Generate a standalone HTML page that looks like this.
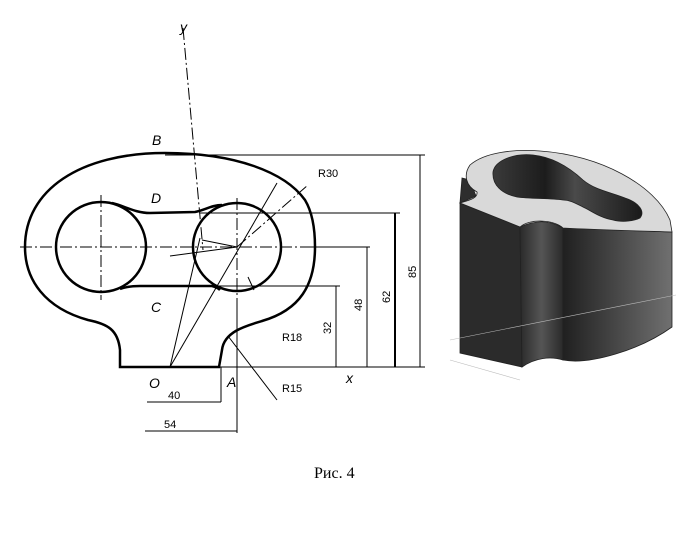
<!DOCTYPE html>
<html><head><meta charset="utf-8"><style>
html,body{margin:0;padding:0;background:#fff;width:676px;height:556px;overflow:hidden}
svg{display:block}
</style></head><body>
<svg width="676" height="556" viewBox="0 0 676 556" xmlns="http://www.w3.org/2000/svg">
<defs>
<linearGradient id="gm" x1="0" x2="1"><stop offset="0" stop-color="#2a2a2a"/><stop offset="0.5" stop-color="#555"/><stop offset="1" stop-color="#2a2a2a"/></linearGradient>
<linearGradient id="gr" x1="0" x2="1"><stop offset="0" stop-color="#202020"/><stop offset="1" stop-color="#707070"/></linearGradient>
<linearGradient id="gh" x1="0" x2="1"><stop offset="0" stop-color="#3a3a3a"/><stop offset="0.35" stop-color="#1c1c1c"/><stop offset="0.55" stop-color="#4a4a4a"/><stop offset="1" stop-color="#1a1a1a"/></linearGradient>
</defs>
<g fill="none" stroke="#000">
<path stroke-width="2.5" d="M120,367 L120,350 C118,330 108,324 88,320 C45,308 25,280 25,247 C25,190 80,153 165,153 C235,153 285,172 305,200 C314,215 315,235 315,247 C315,285 300,310 262,321 C245,326 224,332 222,350 L219,367 Z"/>
<circle cx="101" cy="247" r="45" stroke-width="2.5"/>
<circle cx="237" cy="247" r="44" stroke-width="2.5"/>
<path stroke-width="2.5" d="M112,203 C125,206 135,213 150,213 L195,212 C205,210 212,205 222,205"/>
<path stroke-width="2.5" d="M120,289 C125,287 130,286 140,286 L212,286 C216,287 218,288 220,290"/>
<g stroke-width="1" stroke-dasharray="12,3,2,3">
<line x1="20" y1="247" x2="320" y2="247"/>
<line x1="101" y1="195" x2="101" y2="300"/>
<line x1="237" y1="198" x2="237" y2="300"/>
<line x1="183" y1="28" x2="203" y2="250"/>
<line x1="237" y1="247" x2="308" y2="185"/>
</g>
<g stroke-width="1">
<line x1="165" y1="155" x2="425" y2="155"/>
<line x1="420" y1="155" x2="420" y2="367"/>
<line x1="200" y1="213" x2="400" y2="213"/>
<line x1="395" y1="213" x2="395" y2="367" stroke-width="2"/>
<line x1="300" y1="247" x2="370" y2="247"/>
<line x1="367" y1="247" x2="367" y2="367"/>
<line x1="215" y1="286" x2="340" y2="286"/>
<line x1="336" y1="286" x2="336" y2="367"/>
<line x1="219" y1="367" x2="425" y2="367"/>
<line x1="237" y1="300" x2="237" y2="433"/>
<line x1="221" y1="367" x2="221" y2="402"/>
<line x1="147" y1="402" x2="221" y2="402"/>
<line x1="145" y1="431" x2="237" y2="431"/>
<line x1="228" y1="336" x2="277" y2="400"/>
<line x1="170" y1="367" x2="277" y2="183"/>
<line x1="170" y1="367" x2="200" y2="238"/>
<line x1="237" y1="247" x2="170" y2="256"/>
<line x1="237" y1="247" x2="202" y2="240"/>
<line x1="248" y1="277" x2="254" y2="290"/>
</g>
</g>
<g font-family="Liberation Sans, sans-serif" font-size="11" fill="#000">
<text x="318" y="177">R30</text>
<text x="282" y="341">R18</text>
<text x="282" y="392">R15</text>
<text x="168" y="399">40</text>
<text x="164" y="428">54</text>
<text transform="translate(416,278) rotate(-90)">85</text>
<text transform="translate(390,303) rotate(-90)">62</text>
<text transform="translate(362,311) rotate(-90)">48</text>
<text transform="translate(331,334) rotate(-90)">32</text>
</g>
<g font-family="Liberation Sans, sans-serif" font-size="14" font-style="italic" fill="#000">
<text x="152" y="145">B</text>
<text x="151" y="203">D</text>
<text x="151" y="312">C</text>
<text x="149" y="388">O</text>
<text x="227" y="387">A</text>
<text x="346" y="383">x</text>
<text x="180" y="32">y</text>
</g>
<text x="314" y="478" font-family="Liberation Serif, serif" font-size="16" fill="#000">Рис. 4</text>

<g stroke="#222" stroke-width="0.8">
<path fill="#2e2e2e" d="M462,178 L470,180 L476,196 L460,203 Z"/>
<path fill="#2b2b2b" d="M460,203 L520,227 L522,367 L460,353 Z"/>
<path fill="url(#gm)" d="M520,227 C535,220 550,220 563,228 L563,360 C550,356 535,358 522,367 Z"/>
<path fill="url(#gr)" d="M563,228 L672,232 L672,327 C640,350 590,365 563,360 Z"/>
<path fill="#d9d9d9" d="M460,203 C470,200 478,198 477,192 C466,186 463,175 470,165 C485,152 515,149 540,151 C600,155 655,185 670,220 L672,232 C640,231 600,230 563,228 C555,220 530,218 520,227 Z"/>
<path fill="url(#gh)" d="M493,172 C495,160 515,153 533,155 C553,157 570,168 583,180 C595,190 610,192 625,198 C640,203 645,212 640,218 C632,222 620,222 613,220 C600,218 590,210 583,207 C575,203 570,200 563,200 C550,198 530,199 517,197 C502,194 492,185 493,172 Z"/>
</g>
<g stroke="#bbb" stroke-width="0.6" fill="none">
<line x1="450" y1="340" x2="676" y2="295"/>
<line x1="450" y1="360" x2="520" y2="380"/>
</g>
</svg>
</body></html>
